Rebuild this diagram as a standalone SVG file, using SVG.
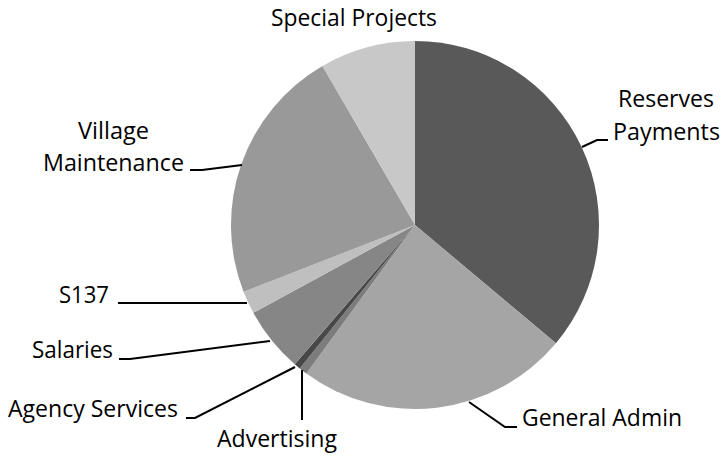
<svg xmlns="http://www.w3.org/2000/svg" width="723" height="457" viewBox="0 0 723 457">
<style>
.lbl{font-family:"Open Sans","Noto Sans","Liberation Sans",sans-serif;font-size:23px;fill:#000}
.ldr{fill:none;stroke:#000;stroke-width:2}
</style>
<rect width="723" height="457" fill="#fff"/>
<g id="pie">
<g id="reserves-payments"><path d="M415,225 L415,41 A184,184 0 0 1 555.95,343.27 Z" fill="#595959"/></g>
<g id="general-admin"><path d="M415,225 L555.95,343.27 A184,184 0 0 1 306.33,373.48 Z" fill="#a5a5a5"/></g>
<g id="advertising"><path d="M415,225 L306.33,373.48 A184,184 0 0 1 299.71,368.40 Z" fill="#7c7c7c"/></g>
<g id="agency-services"><path d="M415,225 L299.71,368.40 A184,184 0 0 1 294.77,364.29 Z" fill="#474747"/></g>
<g id="salaries"><path d="M415,225 L294.77,364.29 A184,184 0 0 1 253.30,312.80 Z" fill="#868686"/></g>
<g id="s137"><path d="M415,225 L253.30,312.80 A184,184 0 0 1 243.55,291.84 Z" fill="#bfbfbf"/></g>
<g id="village-maintenance"><path d="M415,225 L243.55,291.84 A184,184 0 0 1 322.44,65.97 Z" fill="#999999"/></g>
<g id="special-projects"><path d="M415,225 L322.44,65.97 A184,184 0 0 1 415,41 Z" fill="#c8c8c8"/></g>
</g>
<g id="connectors">
<polyline class="ldr" points="582,147 597,140 608,140"/>
<polyline class="ldr" points="469,402 505,427 517,427"/>
<polyline class="ldr" points="302,370 302,420"/>
<polyline class="ldr" points="295,367 195,418 186,418"/>
<polyline class="ldr" points="270,341 130,359 119,359"/>
<polyline class="ldr" points="247,303 118,303"/>
<polyline class="ldr" points="242,165 202,170 190,170"/>
</g>
<g id="labels">
<text class="lbl" x="271" y="26" textLength="166" lengthAdjust="spacingAndGlyphs">Special Projects</text>
<text class="lbl" x="618" y="107" textLength="96" lengthAdjust="spacingAndGlyphs">Reserves</text>
<text class="lbl" x="613" y="140" textLength="107" lengthAdjust="spacingAndGlyphs">Payments</text>
<text class="lbl" x="78" y="139" textLength="71" lengthAdjust="spacingAndGlyphs">Village</text>
<text class="lbl" x="43" y="171" textLength="141" lengthAdjust="spacingAndGlyphs">Maintenance</text>
<text class="lbl" x="59" y="303" textLength="50" lengthAdjust="spacingAndGlyphs">S137</text>
<text class="lbl" x="32" y="358" textLength="81" lengthAdjust="spacingAndGlyphs">Salaries</text>
<text class="lbl" x="8" y="417" textLength="170" lengthAdjust="spacingAndGlyphs">Agency Services</text>
<text class="lbl" x="217" y="447" textLength="120" lengthAdjust="spacingAndGlyphs">Advertising</text>
<text class="lbl" x="522" y="426" textLength="160" lengthAdjust="spacingAndGlyphs">General Admin</text>
</g>
</svg>
